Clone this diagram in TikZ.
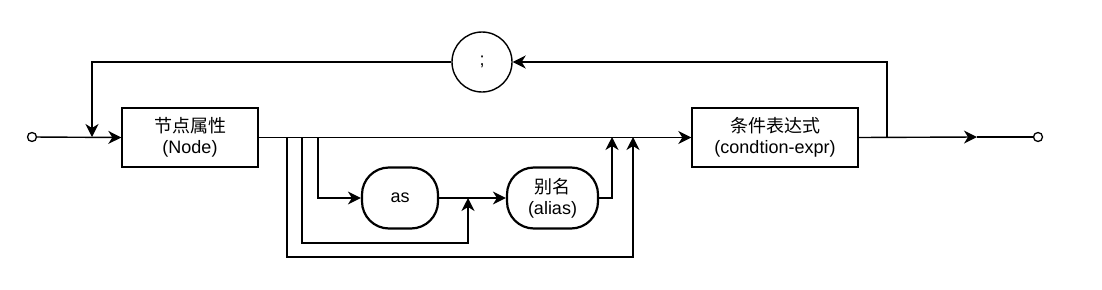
\documentclass[tikz,border=0pt]{standalone}
\usepackage{fontspec}
\setmainfont{Liberation Sans}
\newfontfamily\cjk{Noto Sans CJK SC}
\usetikzlibrary{arrows.meta,calc}
\begin{document}
\begin{tikzpicture}[x=1pt,y=-1pt,
  line/.style={line width=1.4pt},
  arr/.style={line width=1.4pt,-{Stealth[length=13pt,width=13pt,inset=4pt]}},
  txt/.style={font=\fontsize{18}{21}\selectfont,align=center,inner sep=0pt},
  rect/.style={draw,line width=1.4pt,minimum width=#1,minimum height=59pt,txt},
  pill/.style={draw,line width=2.2pt,rounded corners=27pt,minimum width=#1,minimum height=61pt,txt},
  term/.style={draw,circle,line width=1.3pt,fill=white,minimum size=9pt,inner sep=0pt}]
\useasboundingbox (0,0) rectangle (1102,289);
% nodes
\node[term] (start) at (32,137) {};
\node[term] (stop) at (1038,137) {};
\node[rect=136pt] (N) at (190,137.5) {{\cjk 节点属性}\\(Node)};
\node[rect=166pt] (C) at (775,137.5) {{\cjk 条件表达式}\\(condtion-expr)};
\node[draw,circle,line width=1.4pt,minimum size=60pt,inner sep=0pt,font=\fontsize{18}{21}\selectfont] (S) at (482,62) {;};
\node[pill=76pt] (as) at (400,198) {as};
\node[pill=91pt] (al) at (552.5,198) {{\cjk 别名}\\(alias)};
% coordinates
\coordinate (j1) at (92,137);
\coordinate (j2) at (887,137);
\coordinate (a1) at (977,137);
\coordinate (b1) at (318,137);
\coordinate (b2) at (302,137);
\coordinate (b3) at (287,137);
\coordinate (m1) at (612,137);
\coordinate (m2) at (633,137);
\coordinate (k2) at (468,243);
\coordinate (k3) at (633,257);
\coordinate (d2) at (468,198);
% connectors
\draw[arr] (start) -- (N.west);
\draw[arr] (S.west) -| (j1);
\draw[arr] (N.east) -- (C.west);
\draw[arr] (C.east) -- (a1);
\draw[line] (a1) -- (stop);
\draw[arr] (j2) |- (S.east);
\draw[arr] (b1) |- (as.west);
\draw[arr] (as.east) -- (al.west);
\draw[arr] (al.east) -| (m1);
\draw[arr] (b2) |- (k2) -- (d2);
\draw[arr] (b3) |- (k3) -- (m2);
\end{tikzpicture}
\end{document}
